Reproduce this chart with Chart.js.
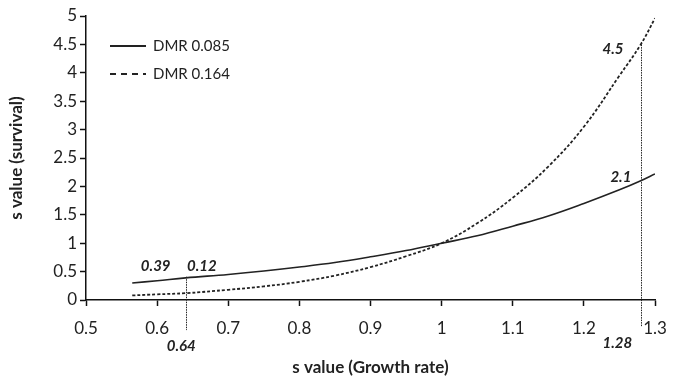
<!DOCTYPE html>
<html>
<head>
<meta charset="utf-8">
<script src="https://cdn.jsdelivr.net/npm/chart.js@4/dist/chart.umd.min.js"></script>
<style>
  html, body { margin: 0; padding: 0; background: #fff; }
  #wrap { width: 681px; height: 382px; }
</style>
</head>
<body>
<div id="wrap"><canvas id="myChart"></canvas></div>
<script>
// growth rate s values (x) and survival s values for both curves
let growthRate = [0.565, 0.6, 0.64, 0.7, 0.75, 0.8, 0.85, 0.9, 0.95, 1.0, 1.05, 1.1, 1.15, 1.2, 1.25, 1.28, 1.3];
let dmr085 = [0.30, 0.34, 0.39, 0.45, 0.51, 0.58, 0.66, 0.76, 0.87, 1.0, 1.13, 1.30, 1.48, 1.70, 1.94, 2.1, 2.22];
let dmr164 = [0.08, 0.10, 0.12, 0.18, 0.24, 0.32, 0.43, 0.58, 0.77, 1.0, 1.35, 1.80, 2.35, 3.05, 3.95, 4.5, 4.96];
let seriesNames = ['DMR 0.085', 'DMR 0.164'];

// dotted drop lines: x value, top y value, bottom y value
let dropX = [0.64, 1.28];
let dropTop = [0.41, 4.54];
let dropBottom = [-0.53, -0.47];

// bold italic notes
let noteText = ['0.39', '0.12', '0.64', '1.28', '4.5', '2.1'];
let noteX = [0.598, 0.663, 0.634, 1.247, 1.241, 1.252];
let noteY = [0.60, 0.60, -0.81, -0.76, 4.41, 2.16];

let ink = '#222';
let fontName = 'Lato, "Open Sans", sans-serif';

function points(xs, ys) {
    let out = [];
    for (let i = 0; i < xs.length; i++) {
        out.push({ x: xs[i], y: ys[i] });
    }
    return out;
}

function fmt(v) {
    return String(Number(v.toFixed(1)));
}

// draws drop lines, notes and the legend box
let extras = {
    id: 'extras',
    afterDatasetsDraw(chart) {
        let ctx = chart.ctx;
        let xs = chart.scales.x;
        let ys = chart.scales.y;
        ctx.save();

        ctx.strokeStyle = ink;
        ctx.lineWidth = 1;
        ctx.setLineDash([1.5, 1]);
        for (let i = 0; i < dropX.length; i++) {
            let px = Math.round(xs.getPixelForValue(dropX[i])) + 0.5;
            ctx.beginPath();
            ctx.moveTo(px, ys.getPixelForValue(dropTop[i]));
            ctx.lineTo(px, ys.getPixelForValue(dropBottom[i]));
            ctx.stroke();
        }

        ctx.setLineDash([]);
        ctx.fillStyle = ink;
        ctx.font = 'italic bold 15px ' + fontName;
        ctx.textAlign = 'center';
        ctx.textBaseline = 'middle';
        for (let n = 0; n < noteText.length; n++) {
            ctx.fillText(noteText[n], xs.getPixelForValue(noteX[n]), ys.getPixelForValue(noteY[n]));
        }

        // legend
        let lx = chart.chartArea.left + 24;
        let ly = chart.chartArea.top + 30;
        ctx.font = '15px ' + fontName;
        ctx.textAlign = 'left';
        chart.data.datasets.forEach(function (ds, k) {
            let y = ly + k * 28;
            ctx.lineWidth = 1.8;
            ctx.setLineDash(k == 1 ? [6, 5] : []);
            ctx.beginPath();
            ctx.moveTo(lx, y);
            ctx.lineTo(lx + 36, y);
            ctx.stroke();
            ctx.setLineDash([]);
            ctx.fillText(ds.label, lx + 43, y);
        });
        ctx.restore();
    }
};

let ctx = document.getElementById('myChart').getContext('2d');
let chart = new Chart(ctx, {
    type: 'line',
    data: {
        datasets: [{
            label: seriesNames[0],
            data: points(growthRate, dmr085),
            borderColor: ink,
            borderWidth: 1.6,
            pointRadius: 0,
            tension: 0.4,
            fill: false
        }, {
            label: seriesNames[1],
            data: points(growthRate, dmr164),
            borderColor: ink,
            borderWidth: 1.8,
            borderDash: [3, 2],
            pointRadius: 0,
            tension: 0.4,
            fill: false
        }]
    },
    options: {
        responsive: true,
        maintainAspectRatio: false,
        animation: false,
        layout: { padding: { top: 16, right: 26, left: 0, bottom: 0 } },
        plugins: {
            legend: { display: false },
            tooltip: { enabled: false }
        },
        scales: {
            x: {
                type: 'linear',
                min: 0.5,
                max: 1.3,
                afterFit: function (s) { s.height = 82; },
                border: { color: '#111', width: 1.5 },
                grid: { drawOnChartArea: false, drawTicks: true, tickLength: 6, color: '#111', tickWidth: 1.5 },
                ticks: {
                    stepSize: 0.1,
                    padding: 12,
                    color: ink,
                    font: { family: fontName, size: 17 },
                    callback: function (v) { return fmt(v); }
                },
                title: {
                    display: true,
                    text: 's value (Growth rate)',
                    color: ink,
                    padding: { top: 0, bottom: 4 },
                    font: { family: fontName, size: 17, weight: 'bold' }
                }
            },
            y: {
                min: 0,
                max: 5,
                afterFit: function (s) { s.width = 86; },
                border: { color: '#111', width: 1.5 },
                grid: { drawOnChartArea: false, drawTicks: true, tickLength: 6, color: '#111', tickWidth: 1.5 },
                ticks: {
                    stepSize: 0.5,
                    padding: 3,
                    color: ink,
                    font: { family: fontName, size: 17 },
                    callback: function (v) { return fmt(v); }
                },
                title: {
                    display: true,
                    text: 's value (survival)',
                    color: ink,
                    padding: { top: 6, bottom: 6 },
                    font: { family: fontName, size: 17, weight: 'bold' }
                }
            }
        }
    },
    plugins: [extras]
});
</script>
</body>
</html>
